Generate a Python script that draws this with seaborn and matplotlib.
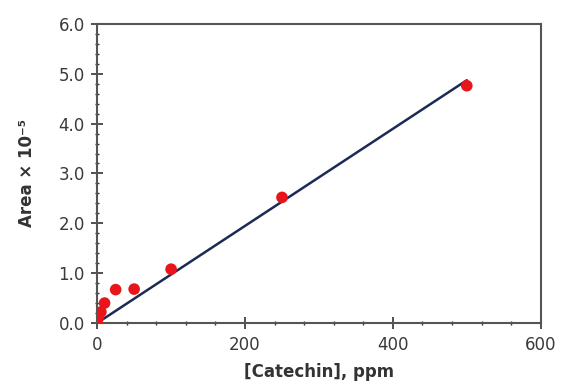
import seaborn as sns
import matplotlib.pyplot as plt
from matplotlib.ticker import MultipleLocator

# calibration data
conc = [0, 1, 5, 10, 25, 50, 100, 250, 500]
area = [0.0, 0.1, 0.22, 0.40, 0.67, 0.68, 1.08, 2.52, 4.76]
# linear fit end points
fit_x = [0, 500]
fit_y = [0.0, 4.87]

sns.set_style('white')
plt.rcParams['font.family'] = ['DejaVu Sans']

fig = plt.figure(figsize=(5.65, 3.92), dpi=100)
ax = fig.add_axes([0.172, 0.176, 0.785, 0.763])

sns.lineplot(x=fit_x, y=fit_y, color='#1c2b55', linewidth=1.8, ax=ax, zorder=2)
sns.scatterplot(x=conc, y=area, color='#e8161b', s=70, edgecolor='none', ax=ax, zorder=3)

ax.set_xlim(0, 600)
ax.set_ylim(0, 6)
ax.xaxis.set_major_locator(MultipleLocator(200))
ax.xaxis.set_minor_locator(MultipleLocator(40))
ax.yaxis.set_major_locator(MultipleLocator(1))
ax.yaxis.set_minor_locator(MultipleLocator(0.2))
ax.yaxis.set_major_formatter(lambda v, p: f'{v:.1f}')

ax.tick_params(which='major', direction='inout', length=8, width=1.2, colors='#333333',
               labelsize=12, labelcolor='#3a3a3a', pad=5)
ax.tick_params(which='minor', direction='inout', length=3.5, width=1, colors='#333333')
ax.tick_params(left=True, bottom=True, which='both')

for sp in ax.spines.values():
    sp.set_color('#555555')
    sp.set_linewidth(1.5)

ax.set_xlabel('[Catechin], ppm', fontsize=12, fontweight='bold', color='#333333', labelpad=7)
ax.set_ylabel('Area × 10⁻⁵', fontsize=12, fontweight='bold', color='#333333', labelpad=16)

fig.savefig('out.png', dpi=100)
